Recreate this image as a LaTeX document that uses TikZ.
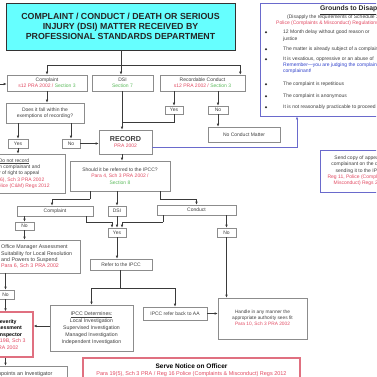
\documentclass[tikz,border=0pt]{standalone}
\usepackage{fontspec}
\setmainfont{Liberation Sans}
\usetikzlibrary{arrows.meta}

\definecolor{boxline}{HTML}{8C8C8C}
\definecolor{wire}{HTML}{3A3A3A}
\definecolor{ink}{HTML}{404040}
\definecolor{refred}{HTML}{E24A62}
\definecolor{refgreen}{HTML}{5DBB5D}
\definecolor{slate}{HTML}{6A6ACC}
\definecolor{alertred}{HTML}{E07080}
\definecolor{headcyan}{HTML}{66FFFF}
\definecolor{remblue}{HTML}{3344CC}

\newcommand{\fsmall}{\fontsize{5}{6.3}\selectfont}
\newcommand{\rd}[1]{\textcolor{refred}{#1}}
\newcommand{\gr}[1]{\textcolor{refgreen}{#1}}
% box from corner (x1,y1) to (x2,y2): style, name, x1, y1, x2, y2, text
\newcommand{\placebox}[7]{%
  \node[#1, minimum width={(#5-#3)*1pt}, minimum height={(#6-#4)*1pt}]
    (#2) at ({(#3+#5)/2},{(#4+#6)/2}) {#7};}

\tikzset{
  box/.style={draw=boxline, line width=0.6pt, fill=white, inner sep=0pt,
              align=center, font=\fsmall, text=ink},
  slatebox/.style={box, draw=slate, line width=0.9pt},
  redbox/.style={box, draw=alertred, line width=1.3pt},
  wirel/.style={draw=wire, line width=0.6pt},
  arr/.style={wirel, -{Latex[length=3pt,width=2.6pt]}},
  slatearr/.style={draw=slate, line width=0.8pt, -{Latex[length=3pt,width=2.6pt]}},
  lbl/.style={inner sep=0pt, font=\fsmall, text=ink, anchor=base west},
}

\begin{document}
\begin{tikzpicture}[x=1pt,y=-1pt]
\useasboundingbox (0,0) rectangle (376,377);
\begin{scope}
\clip (0,0) rectangle (376,377);
\fill[white] (0,0) rectangle (376,377);

% ---- header
\placebox{box, draw=black!80, fill=headcyan, line width=0.8pt, text=black!85,
  font={\fontsize{8.8}{10}\selectfont\bfseries}}{title}{6}{3}{235}{50}
  {COMPLAINT / CONDUCT / DEATH OR SERIOUS\\ INJURY (DSI) MATTER RECEIVED BY\\ PROFESSIONAL STANDARDS DEPARTMENT}

% ---- grounds to disapply panel
\placebox{slatebox}{grounds}{260}{3}{420}{116}{}
\node[lbl, font={\fontsize{6.8}{7}\selectfont\bfseries}, text=black!85] (gtitle) at (320,11) {\underline{Grounds to Disapply}};
\node[lbl] (gsub) at (287,18.5) {(Disapply the requirements of Schedule 3 to the};
\node[lbl, text=refred] (gsub2) at (276,24.5) {Police (Complaints \& Misconduct) Regulations 2012};
\foreach \yy in {34,51,61,86,98,109}
  \fill[black!85] (266,\yy-1.7) circle (1.1);
\node[lbl] (ga1) at (283,34) {12 Month delay without good reason or};
\node[lbl] (ga2) at (283,41) {justice};
\node[lbl] (gb1) at (283,51) {The matter is already subject of a complaint};
\node[lbl] (gc1) at (283,61) {It is vexatious, oppressive or an abuse of};
\node[lbl, text=remblue] (gc2) at (283,67) {Remember---you are judging the complaint not the};
\node[lbl, text=remblue] (gc3) at (283,73) {complainant!};
\node[lbl] (gd1) at (283,86) {The complaint is repetitious};
\node[lbl] (ge1) at (283,98) {The complaint is anonymous};
\node[lbl] (gf1) at (283,109) {It is not reasonably practicable to proceed};

% ---- first tier
\placebox{box}{complaint}{7}{75}{87}{91}{Complaint\\ \rd{s12 PRA 2002 /} \gr{Section 3}}
\placebox{box}{dsi}{92}{75}{153}{91}{DSI\\ \gr{Section 7}}
\placebox{box}{recordable}{160}{75}{245}{91}{Recordable Conduct\\ \rd{s12 PRA 2002 /} \gr{Section 3}}

\placebox{box}{does}{6}{103}{84}{123}{Does it fall within the\\ exemptions of recording?}
\placebox{box}{yesL}{8}{139}{28}{148}{Yes}
\placebox{box}{noL}{62}{139}{80}{148}{No}
\placebox{box}{yesR}{165}{106}{183}{114}{Yes}
\placebox{box}{noR}{208}{106}{228}{114}{No}
\placebox{box}{noconduct}{208}{127}{280}{142}{No Conduct Matter}

\placebox{box}{record}{99}{130}{152}{154}{{\fontsize{7.2}{8}\selectfont\bfseries RECORD}\\ \rd{PRA 2002}}

\placebox{box}{donot}{-40}{154}{65}{193}{}
\node[inner sep=0pt, align=center, font=\fsmall, text=ink] (donottext) at (14,173.5)
  {\underline{Do not record}\\ Inform complainant and\\ notify of right to appeal\\
   \rd{Para 2(6), Sch 3 PRA 2002}\\ \rd{Reg 3, Police (C\&M) Regs 2012}};

\placebox{box}{referral}{70}{161}{170}{191}{Should it be referred to the IPCC?\\ \rd{Para 4, Sch 3 PRA 2002 /}\\ \gr{Section 8}}

\placebox{slatebox}{sendcopy}{320}{150}{400}{192}{Send copy of appeal to\\ complainant on the day of\\ sending it to the IPCC\\ \rd{Reg 11, Police (Complaints \&}\\ \rd{Misconduct) Regs 2012}}

% ---- second tier
\placebox{box}{complaintB}{17}{206}{93}{216}{Complaint}
\placebox{box}{dsiB}{108}{206}{126}{216}{DSI}
\placebox{box}{conductB}{157}{205}{236}{215}{Conduct}
\placebox{box}{noB}{15}{222}{34}{230}{No}
\placebox{box}{yesB}{108}{228}{126}{237}{Yes}
\placebox{box}{noC}{217}{228}{236}{237}{No}

\placebox{box}{office}{-30}{240}{80}{273}{}
\node[inner sep=0pt, align=left, anchor=west, font={\fontsize{5.3}{6.1}\selectfont}, text=ink]
  (officetext) at (1,256.5)
  {Office Manager Assessment\\ Suitability for Local Resolution\\ and Powers to Suspend\\ \rd{Para 6, Sch 3 PRA 2002}};

\placebox{box}{refer}{90}{259}{152}{270}{Refer to the IPCC}

\placebox{box, font={\fontsize{5.2}{7}\selectfont}}{determines}{50}{305}{133}{351}
  {\underline{IPCC Determines:}\\ Local Investigation\\ Supervised Investigation\\ Managed Investigation\\ Independent Investigation}
\placebox{box}{referback}{143}{307}{207}{320}{IPCC refer back to AA}
\placebox{box, font={\fontsize{4.8}{6}\selectfont}}{handle}{218}{298}{307}{339}
  {Handle in any manner the\\ appropriate authority sees fit\\ \rd{Para 10, Sch 3 PRA 2002}}

\placebox{box}{noD}{-3}{290}{14}{299}{No}
\placebox{redbox, font={\fontsize{5.2}{6.6}\selectfont}, text=black}{severity}{-20}{312}{33}{357}
  {\textbf{Severity}\\ \textbf{Assessment}\\ \textbf{by Inspector}\\ \rd{Para 19B, Sch 3}\\ \rd{PRA 2002}}
\placebox{box, font={\fontsize{5.4}{6}\selectfont}}{appoints}{-20}{366}{67}{383}{Appoints an Investigator}

\placebox{redbox, font={\fontsize{5.5}{7}\selectfont}}{serve}{83}{358}{300}{382}
  {{\fontsize{6.5}{7}\selectfont\bfseries\color{black} Serve Notice on Officer}\\
   \rd{Para 19(5), Sch 3 PRA / Reg 16 Police (Complaints \& Misconduct) Regs 2012}}

% ---- connectors
\coordinate (j0) at (121,65);
\coordinate (inlet) at (0,84);
\coordinate (merge) at (122,122);
\coordinate (gport) at (297,147);
\coordinate (bl) at (90,199);
\coordinate (br) at (160,199);
\coordinate (mj1) at (86,222);
\coordinate (mj2) at (163,222);
\coordinate (sp) at (120,288);

\draw[wirel] (title.south -| j0) -- (j0);
\draw[arr] (j0) -| (complaint.north);
\draw[arr] (j0) -- (j0 |- dsi.north);
\draw[arr] (j0) -| ([xshift=-5pt]recordable.north east);
\draw[arr] (inlet) -- (inlet -| complaint.west);

\draw[arr] (complaint.south) -- (complaint.south |- does.north);
\draw[arr] (does.south -| yesL) -- (yesL.north);
\draw[arr] (does.south -| noL) -- (noL.north);
\draw[arr] (noL.east) -- (noL.east -| record.west);
\draw[arr] (yesL.south) -- (yesL.south |- donot.north);

\draw[arr] (recordable.south -| yesR) -- (yesR.north);
\draw[arr] (recordable.south -| noR) -- (noR.north);
\draw[arr] (noR.south) -- (noR.south |- noconduct.north);
\draw[wirel] (yesR.south) |- (merge);
\draw[arr] (dsi.south -| merge) -- (merge |- record.north);

\draw[slatearr] (record.east |- gport) -- (gport) -- (gport |- grounds.south);

\draw[arr] (record.south -| merge) -- (merge |- referral.north);
\draw[wirel] (referral.south -| bl) -- (bl);
\draw[arr] (bl) -| ([xshift=-3pt]complaintB.north);
\draw[arr] (referral.south -| dsiB) -- (dsiB.north);
\draw[wirel] (referral.south -| br) -- (br);
\draw[arr] (br) -| (conductB.north);

\draw[arr] (complaintB.south -| noB) -- (noB.north);
\draw[arr] (noB.south) -- (noB.south |- office.north);
\draw[wirel] (complaintB.south -| mj1) -- (mj1);
\draw[arr] (mj1) -| ([xshift=-5pt]yesB.north);
\draw[arr] (dsiB.south) -- (yesB.north);
\draw[wirel] (conductB.south -| mj2) -- (mj2);
\draw[arr] (mj2) -| ([xshift=5pt]yesB.north);
\draw[arr] (conductB.south -| noC) -- (noC.north);
\draw[arr] (noC.south) -- (noC.south |- handle.north);

\draw[arr] (yesB.south) -- (yesB.south |- refer.north);
\draw[wirel] (refer.south -| sp) -- (sp);
\draw[arr] (sp) -| (determines.north);
\draw[arr] (sp) -| (referback.north);
\draw[arr] (referback.east) -- (referback.east -| handle.west);
\draw[arr] ([yshift=2pt]determines.west) -- ([yshift=2pt]determines.west -| severity.east);

\draw[arr] (office.south -| noD) -- (noD.north);
\draw[arr] (noD.south) -- (noD.south |- severity.north);
\draw[arr] (severity.south -| noD) -- (noD.south |- appoints.north);
\end{scope}
\end{tikzpicture}
\end{document}
